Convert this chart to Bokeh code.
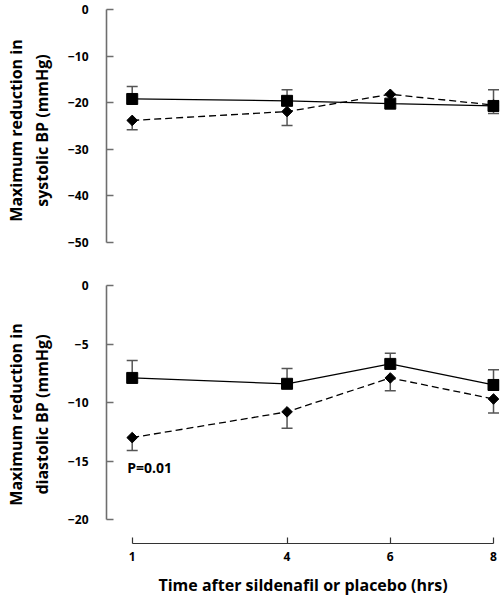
import math
from bokeh.plotting import figure
from bokeh.layouts import column
from bokeh.models import Range1d, ColumnDataSource, Whisker, FixedTicker, Label, TeeHead
from bokeh.embed import file_html
from bokeh.resources import INLINE

# ---- data ----
hours = [1, 4, 6, 8]
x_tick_labels = {1: "1", 4: "4", 6: "6", 8: "8"}

# systolic (top)
sys_square = [-19.2, -19.6, -20.2, -20.7]
sys_square_upper = [-16.5, -17.2, -20.2, -17.2]
sys_diamond = [-23.8, -21.9, -18.2, -20.5]
sys_diamond_lower = [-25.8, -24.9, -18.2, -22.3]
sys_ticks = [0, -10, -20, -30, -40, -50]

# diastolic (bottom)
dia_square = [-7.9, -8.4, -6.7, -8.5]
dia_square_upper = [-6.4, -7.1, -5.8, -7.2]
dia_diamond = [-13.0, -10.8, -7.9, -9.7]
dia_diamond_lower = [-14.1, -12.2, -9.0, -10.9]
dia_ticks = [0, -5, -10, -15, -20]

p_label = "P=0.01"

FONT = "Open Sans"
AXIS_COL = "#6e6e6e"
ERR_COL = "#555555"


def fmt(v):
    return ("\u2212" + str(abs(v))) if v < 0 else str(v)


def make_panel(height, y_range, ticks, ybounds, title, sq, squ, di, dil,
               min_top, min_bottom, show_x):
    p = figure(width=500, height=height, output_backend="svg", toolbar_location=None,
               x_range=Range1d(0.502, 8.116), y_range=y_range,
               min_border_left=106, min_border_right=1,
               min_border_top=min_top, min_border_bottom=min_bottom)
    p.outline_line_color = None
    p.grid.visible = False
    p.background_fill_color = "white"
    p.border_fill_color = "white"

    ya = p.yaxis[0]
    ya.ticker = FixedTicker(ticks=ticks)
    ya.major_label_overrides = {t: fmt(t) for t in ticks}
    ya.bounds = ybounds
    ya.axis_line_color = AXIS_COL
    ya.axis_line_width = 1.6
    ya.major_tick_line_color = AXIS_COL
    ya.major_tick_line_width = 1.4
    ya.major_tick_in = 7
    ya.major_tick_out = 0
    ya.minor_tick_line_color = None
    ya.major_label_text_font = FONT
    ya.major_label_text_font_style = "bold"
    ya.major_label_text_font_size = "12px"
    ya.major_label_text_color = "black"
    ya.major_label_standoff = 18
    ya.axis_label = title
    ya.axis_label_text_font = FONT
    ya.axis_label_text_font_style = "bold"
    ya.axis_label_text_font_size = "16px"
    ya.axis_label_text_color = "black"
    ya.axis_label_standoff = 12

    xa = p.xaxis[0]
    if show_x:
        xa.ticker = FixedTicker(ticks=hours)
        xa.major_label_overrides = x_tick_labels
        xa.bounds = (1, 8)
        xa.axis_line_color = "#333333"
        xa.axis_line_width = 1.2
        xa.major_tick_line_color = "#333333"
        xa.major_tick_line_width = 1.2
        xa.major_tick_in = 6
        xa.major_tick_out = 0
        xa.minor_tick_line_color = None
        xa.major_label_text_font = FONT
        xa.major_label_text_font_style = "bold"
        xa.major_label_text_font_size = "12px"
        xa.major_label_text_color = "black"
        xa.major_label_standoff = 8
        xa.axis_label = "Time after sildenafil or placebo (hrs)"
        xa.axis_label_text_font = FONT
        xa.axis_label_text_font_style = "bold"
        xa.axis_label_text_font_size = "16px"
        xa.axis_label_text_color = "black"
        xa.axis_label_standoff = 10
    else:
        xa.visible = False

    src_sq = ColumnDataSource(dict(x=hours, y=sq, up=squ))
    src_di = ColumnDataSource(dict(x=hours, y=di, lo=dil))

    p.add_layout(Whisker(source=src_sq, base="x", lower="y", upper="up",
                         line_color=ERR_COL, line_width=1.5,
                         upper_head=TeeHead(size=11, line_color=ERR_COL, line_width=1.5),
                         lower_head=None, level="underlay"))
    p.add_layout(Whisker(source=src_di, base="x", lower="lo", upper="y",
                         line_color=ERR_COL, line_width=1.5,
                         lower_head=TeeHead(size=11, line_color=ERR_COL, line_width=1.5),
                         upper_head=None, level="underlay"))

    p.line("x", "y", source=src_sq, line_color="black", line_width=1.3)
    p.line("x", "y", source=src_di, line_color="black", line_width=1.3, line_dash="7 4")
    p.scatter("x", "y", source=src_sq, marker="square", size=11,
              fill_color="black", line_color="black")
    p.scatter("x", "y", source=src_di, marker="square", angle=math.pi / 4, size=7.5,
              fill_color="black", line_color="black")
    return p


top = make_panel(265, Range1d(-51.93, 0), sys_ticks, (-50, 0),
                 "Maximum reduction in\nsystolic BP (mmHg)",
                 sys_square, sys_square_upper, sys_diamond, sys_diamond_lower,
                 9, 14, False)

bottom = make_panel(336, Range1d(-22.05, 0), dia_ticks, (-20, 0),
                    "Maximum reduction in\ndiastolic BP (mmHg)",
                    dia_square, dia_square_upper, dia_diamond, dia_diamond_lower,
                    20, 58, True)

bottom.add_layout(Label(x=hours[0], y=dia_diamond_lower[0], x_offset=-5, y_offset=-17,
                        text=p_label, text_font=FONT, text_font_style="bold",
                        text_font_size="14px", text_color="black",
                        text_baseline="middle", text_align="left"))

layout = column(top, bottom, spacing=0)
open("out.html", "w").write(file_html(layout, INLINE))
